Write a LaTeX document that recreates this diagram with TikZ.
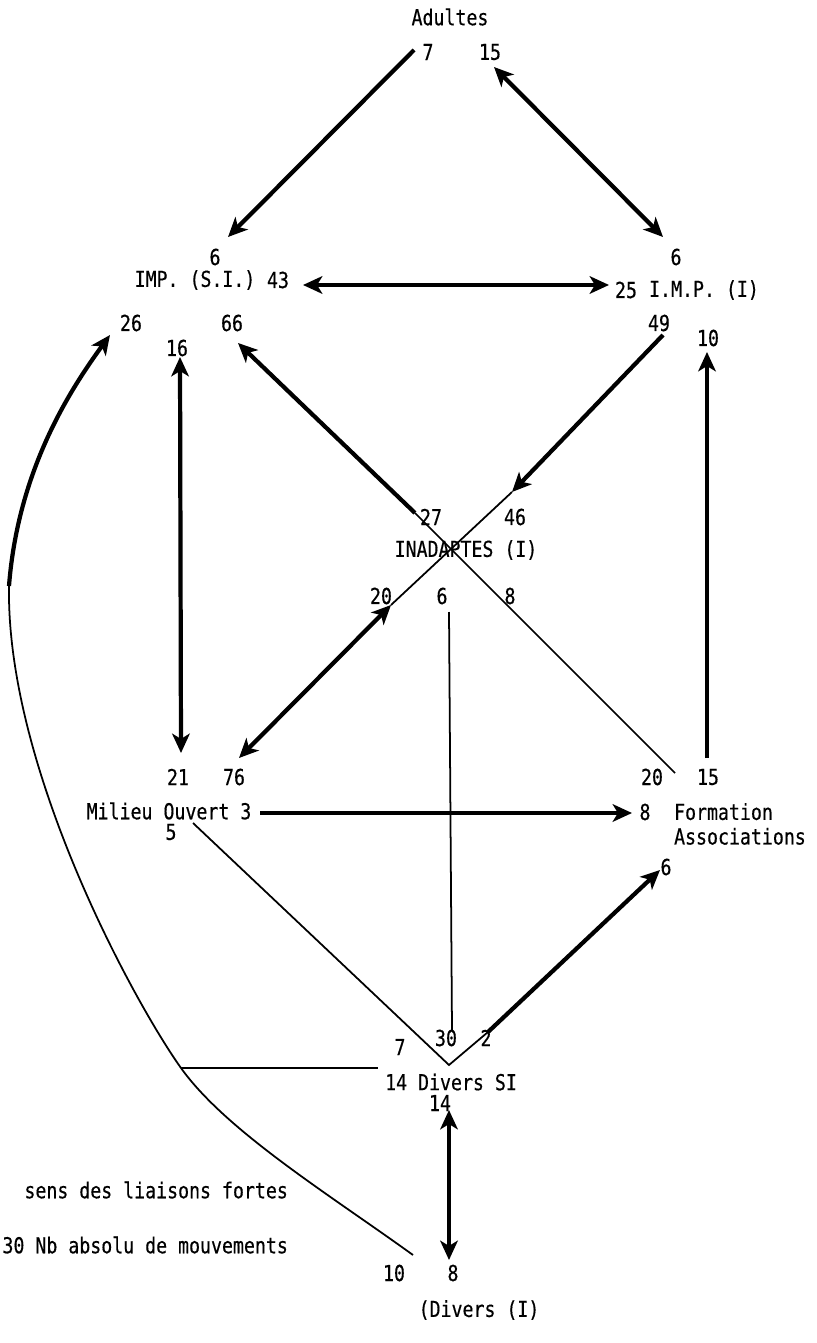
\documentclass[tikz,border=0pt]{standalone}
\usepackage{fontspec}
\newfontfamily\typew[FakeStretch=0.83, FakeBold=0.4]{DejaVu Sans Mono}
\usetikzlibrary{arrows.meta}

\begin{document}
\begin{tikzpicture}[
    x=0.2mm, y=-0.2mm,
    lbl/.style={font=\typew\fontsize{12.5}{14}\selectfont, inner sep=1pt},
    strong/.style={line width=2.4pt, -{Stealth[length=11pt, width=10pt, inset=3pt]}},
    both/.style={strong, {Stealth[length=11pt, width=10pt, inset=3pt]}-{Stealth[length=11pt, width=10pt, inset=3pt]}},
    weak/.style={line width=1pt},
]
\useasboundingbox (0,0) rectangle (816,1343);

% Adultes
\node[lbl] (adultes) at (450,17) {Adultes};
\node[lbl] (a7) at (428,52) {7};
\node[lbl] (a15) at (490,52) {15};

% IMP (S.I.)
\node[lbl] (s6) at (215,257) {6};
\node[lbl] (impsi) at (195,280) {IMP. (S.I.)};
\node[lbl] (s43) at (278,280) {43};
\node[lbl] (s26) at (131,323) {26};
\node[lbl] (s16) at (177,348) {16};
\node[lbl] (s66) at (232,323) {66};

% I.M.P. (I)
\node[lbl] (i6) at (676,257) {6};
\node[lbl] (i25) at (626,290) {25};
\node[lbl] (impi) at (704,290) {I.M.P. (I)};
\node[lbl] (i49) at (659,323) {49};
\node[lbl] (i10) at (708,338) {10};

% Inadaptes
\node[lbl] (n27) at (431,517) {27};
\node[lbl] (n46) at (515,517) {46};
\node[lbl] (inad) at (466,550) {INADAPTES (I)};
\node[lbl] (n20) at (381,596) {20};
\node[lbl] (n6) at (442,596) {6};
\node[lbl] (n8) at (510,596) {8};

% Milieu ouvert
\node[lbl] (m21) at (178,777) {21};
\node[lbl] (m76) at (234,777) {76};
\node[lbl] (milieu) at (169,811) {Milieu Ouvert 3};
\node[lbl] (m5) at (171,832) {5};

% Formation
\node[lbl] (f20) at (652,777) {20};
\node[lbl] (f15) at (708,777) {15};
\node[lbl] (f8) at (645,812) {8};
\node[lbl, align=left, anchor=west] (form) at (672,824) {Formation\\Associations};
\node[lbl] (f6) at (666,867) {6};

% Divers SI
\node[lbl] (d7) at (400,1047) {7};
\node[lbl] (d30) at (446,1038) {30};
\node[lbl] (d2) at (486,1038) {2};
\node[lbl] (divsi) at (451,1082) {14 Divers SI};
\node[lbl] (d14) at (440,1103) {14};

% Divers (I)
\node[lbl] (e10) at (394,1273) {10};
\node[lbl] (e8) at (453,1273) {8};
\node[lbl] (divi) at (479,1310) {(Divers (I)};

% legende
\node[lbl, anchor=east] (leg1) at (290,1190) {sens des liaisons fortes};
\node[lbl, anchor=east] (leg2) at (290,1245) {30 Nb absolu de mouvements};

% points d'attache
\coordinate (ad-l) at (414,50);
\coordinate (si-t) at (228,237);
\coordinate (ad-r) at (494,67);
\coordinate (i-t) at (663,237);
\coordinate (si-r) at (303,285);
\coordinate (i-l) at (609,285);
\coordinate (si-b) at (180,357);
\coordinate (mo-t) at (181,753);
\coordinate (si-66) at (238,343);
\coordinate (in-27) at (415,513);
\coordinate (i-49) at (663,335);
\coordinate (in-46) at (512,492);
\coordinate (in-20) at (391,605);
\coordinate (mo-76) at (239,758);
\coordinate (fa-20) at (675,773);
\coordinate (in-6) at (449,612);
\coordinate (ds-30) at (452,1030);
\coordinate (fa-15) at (707,758);
\coordinate (i-10) at (707,352);
\coordinate (mo-r) at (260,813);
\coordinate (fa-8) at (632,813);
\coordinate (mo-5) at (193,823);
\coordinate (ds-v) at (449,1065);
\coordinate (ds-2) at (488,1032);
\coordinate (fa-6) at (660,870);
\coordinate (ds-l) at (378,1068);
\coordinate (cv-j) at (181,1068);
\coordinate (ds-b) at (449,1110);
\coordinate (di-t) at (449,1260);
\coordinate (di-10) at (413,1255);
\coordinate (cv-k) at (9,586);
\coordinate (si-26) at (110,335);

% liaisons fortes
\draw[strong] (ad-l) -- (si-t);
\draw[both] (ad-r) -- (i-t);
\draw[both] (si-r) -- (i-l);
\draw[both] (si-b) -- (mo-t);
\draw[strong] (in-27) -- (si-66);
\draw[strong] (i-49) -- (in-46);
\draw[both] (in-20) -- (mo-76);
\draw[strong] (fa-15) -- (i-10);
\draw[strong] (mo-r) -- (fa-8);
\draw[strong] (ds-2) -- (fa-6);
\draw[both] (ds-b) -- (di-t);
\draw[strong] (cv-k) .. controls (18,470) and (70,390) .. (si-26);

% liaisons faibles
\draw[weak] (in-27) -- (fa-20);
\draw[weak] (in-46) -- (in-20);
\draw[weak] (in-6) -- (ds-30);
\draw[weak] (mo-5) -- (ds-v) -- (ds-2);
\draw[weak] (cv-j) -- (ds-l);
\draw[weak] (di-10) .. controls (330,1195) and (226,1131) .. (cv-j)
    .. controls (136,1005) and (6,770) .. (cv-k);

\end{tikzpicture}
\end{document}
